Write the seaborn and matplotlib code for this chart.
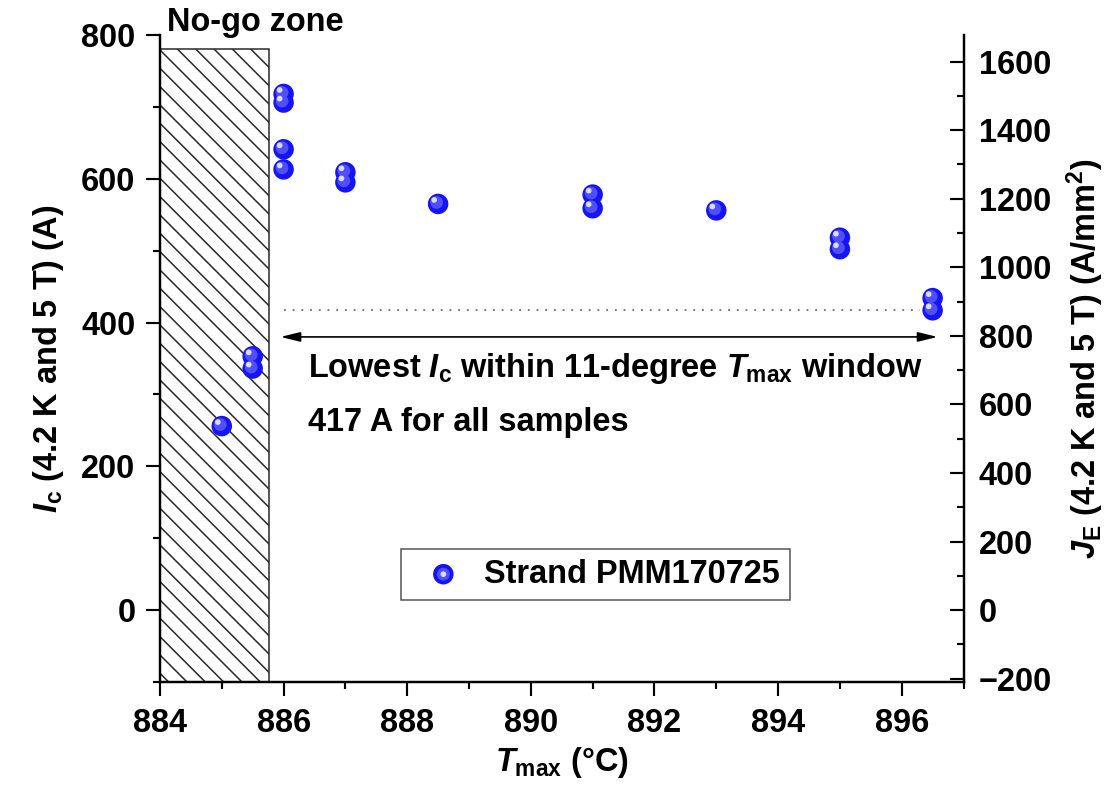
import numpy as np
import pandas as pd
import matplotlib
matplotlib.use("Agg")
import matplotlib.pyplot as plt
import matplotlib.transforms as mtransforms
from matplotlib.patches import Rectangle
from matplotlib.legend_handler import HandlerTuple
from matplotlib.ticker import MultipleLocator
import seaborn as sns

# Peak heat-treatment temperature (°C) and critical current (A) per sample
tmax = [885.0, 885.5, 885.5, 886.0, 886.0, 886.0, 886.0, 887.0, 887.0,
        888.5, 891.0, 891.0, 893.0, 895.0, 895.0, 896.5, 896.5]
ic = [256, 353, 336, 718, 706, 641, 613, 609, 595,
      565, 578, 559, 556, 518, 502, 434, 417]
series_name = "Strand PMM170725"

# Engineering current density per ampere of Ic (A/mm^2 per A)
je_per_ic = 2.097

nogo_start, nogo_end, nogo_top = 884.0, 885.77, 781
window_start, window_end = 886.0, 896.5
lowest_ic = 417

x_ticks = [884, 886, 888, 890, 892, 894, 896]
ic_ticks = [0, 200, 400, 600, 800]
je_ticks = [-200, 0, 200, 400, 600, 800, 1000, 1200, 1400, 1600]

df = pd.DataFrame({"Tmax": tmax, "Ic": ic})

sns.set_theme(style="ticks")
plt.rcParams["font.family"] = ["Liberation Sans", "DejaVu Sans"]
plt.rcParams["font.weight"] = "bold"
plt.rcParams["text.color"] = "black"
plt.rcParams["axes.labelcolor"] = "black"
plt.rcParams["xtick.color"] = "black"
plt.rcParams["ytick.color"] = "black"
plt.rcParams["xtick.labelcolor"] = "black"
plt.rcParams["ytick.labelcolor"] = "black"
plt.rcParams["mathtext.fontset"] = "custom"
plt.rcParams["mathtext.rm"] = "Liberation Sans:bold"
plt.rcParams["mathtext.bf"] = "Liberation Sans:bold"
plt.rcParams["mathtext.it"] = "Liberation Sans:italic:bold"
plt.rcParams["hatch.linewidth"] = 1.0
plt.rcParams["hatch.color"] = "#2a2a2a"

DPI = 110
fig = plt.figure(figsize=(1107 / DPI, 786 / DPI), dpi=DPI)
ax = fig.add_axes([0.1445, 0.1323, 0.7259, 0.8232])

FS = 21.3

# Hatched no-go region
ax.add_patch(Rectangle((nogo_start, -100), nogo_end - nogo_start, nogo_top + 100,
                       facecolor="white", edgecolor="#2a2a2a", hatch="\\\\",
                       linewidth=1.0, zorder=1))
ax.text(nogo_start + 0.11, 818, "No-go zone", fontsize=FS, fontweight="bold",
        ha="left", va="center", clip_on=False)

# Shaded-sphere markers: base disc plus offset highlight
sns.scatterplot(data=df, x="Tmax", y="Ic", ax=ax, s=180, color="#1414f5",
                edgecolor="none", linewidth=0, zorder=4, legend=False)
base_coll = ax.collections[-1]
glow_off = mtransforms.ScaledTranslation(-1.0 / 72, 1.0 / 72, fig.dpi_scale_trans)
mid = ax.scatter(df["Tmax"], df["Ic"], s=70, color="#4f4fff", edgecolor="none",
                 zorder=5, transform=ax.transData + glow_off)
hi_off = mtransforms.ScaledTranslation(-2.6 / 72, 2.6 / 72, fig.dpi_scale_trans)
hi = ax.scatter(df["Tmax"], df["Ic"], s=14, color="#dcdcff", edgecolor="none",
                zorder=6, transform=ax.transData + hi_off)

# Window annotation
ax.plot([window_start, 896.3], [lowest_ic, lowest_ic], linestyle=(0, (1.2, 4.5)),
        color="#555555", linewidth=1.0, zorder=2)
ax.annotate("", xy=(window_start - 0.05, 380), xytext=(window_end + 0.08, 380),
            arrowprops=dict(arrowstyle="<|-|>,head_length=0.9,head_width=0.22",
                            color="black", lw=1.1, shrinkA=0, shrinkB=0), zorder=3)
ax.text(886.4, 336, r"Lowest $I_\mathrm{c}$ within 11-degree $T_\mathrm{max}$ window",
        fontsize=FS, fontweight="bold", ha="left", va="center")
ax.text(886.4, 261, f"{lowest_ic} A for all samples",
        fontsize=FS, fontweight="bold", ha="left", va="center")

# Axes and ticks
ax.set_xlim(884, 897)
ax.set_ylim(-100, 800)
ax.set_xticks(x_ticks)
ax.set_yticks(ic_ticks)
ax.xaxis.set_minor_locator(MultipleLocator(1))
ax.yaxis.set_minor_locator(MultipleLocator(100))
ax.tick_params(axis="both", which="major", direction="out", length=9, width=1.4,
               labelsize=FS, color="black", pad=7)
ax.tick_params(axis="both", which="minor", direction="out", length=4.5, width=1.4,
               color="black")
ax.tick_params(axis="x", which="major", pad=8)
for lab in ax.get_xticklabels() + ax.get_yticklabels():
    lab.set_fontweight("bold")
ax.spines["top"].set_visible(False)
ax.spines["right"].set_visible(False)
for sp in ("left", "bottom"):
    ax.spines[sp].set_linewidth(1.6)
    ax.spines[sp].set_color("black")
ax.set_xlabel(r"$T_\mathrm{max}$ (°C)", fontsize=FS, fontweight="bold", labelpad=4)
ax.set_ylabel(r"$I_\mathrm{c}$ (4.2 K and 5 T) (A)", fontsize=FS, fontweight="bold",
              labelpad=10)

# Secondary axis in engineering current density
ax2 = ax.twinx()
ax2.set_ylim(-100 * je_per_ic, 800 * je_per_ic)
ax2.set_yticks(je_ticks)
ax2.set_yticklabels([("\u2212" + str(-v)) if v < 0 else str(v) for v in je_ticks])
ax2.yaxis.set_minor_locator(MultipleLocator(100))
ax2.tick_params(axis="y", which="major", direction="in", length=9, width=1.4,
                labelsize=FS, pad=10, color="black")
ax2.tick_params(axis="y", which="minor", direction="in", length=4.5, width=1.4,
                color="black")
for lab in ax2.get_yticklabels():
    lab.set_fontweight("bold")
for sp in ("top", "left", "bottom"):
    ax2.spines[sp].set_visible(False)
ax2.spines["right"].set_linewidth(1.6)
ax2.spines["right"].set_color("black")
ax2.set_ylabel(r"$J_\mathrm{E}$ (4.2 K and 5 T) (A/mm$^\mathrm{2}$)", fontsize=FS,
               fontweight="bold", labelpad=8)

# Legend
leg = ax.legend(handles=[(base_coll, mid, hi)], labels=[series_name],
                handler_map={tuple: HandlerTuple(ndivide=1, pad=0)},
                loc="upper left", bbox_to_anchor=(0.3, 0.2056), borderaxespad=0,
                fontsize=FS, frameon=True, fancybox=False, edgecolor="#555555",
                framealpha=1, borderpad=0.3, handletextpad=0.25, handlelength=2.0)
leg.get_frame().set_linewidth(1.0)
for t in leg.get_texts():
    t.set_fontweight("bold")

fig.savefig("out.png", dpi=DPI)
